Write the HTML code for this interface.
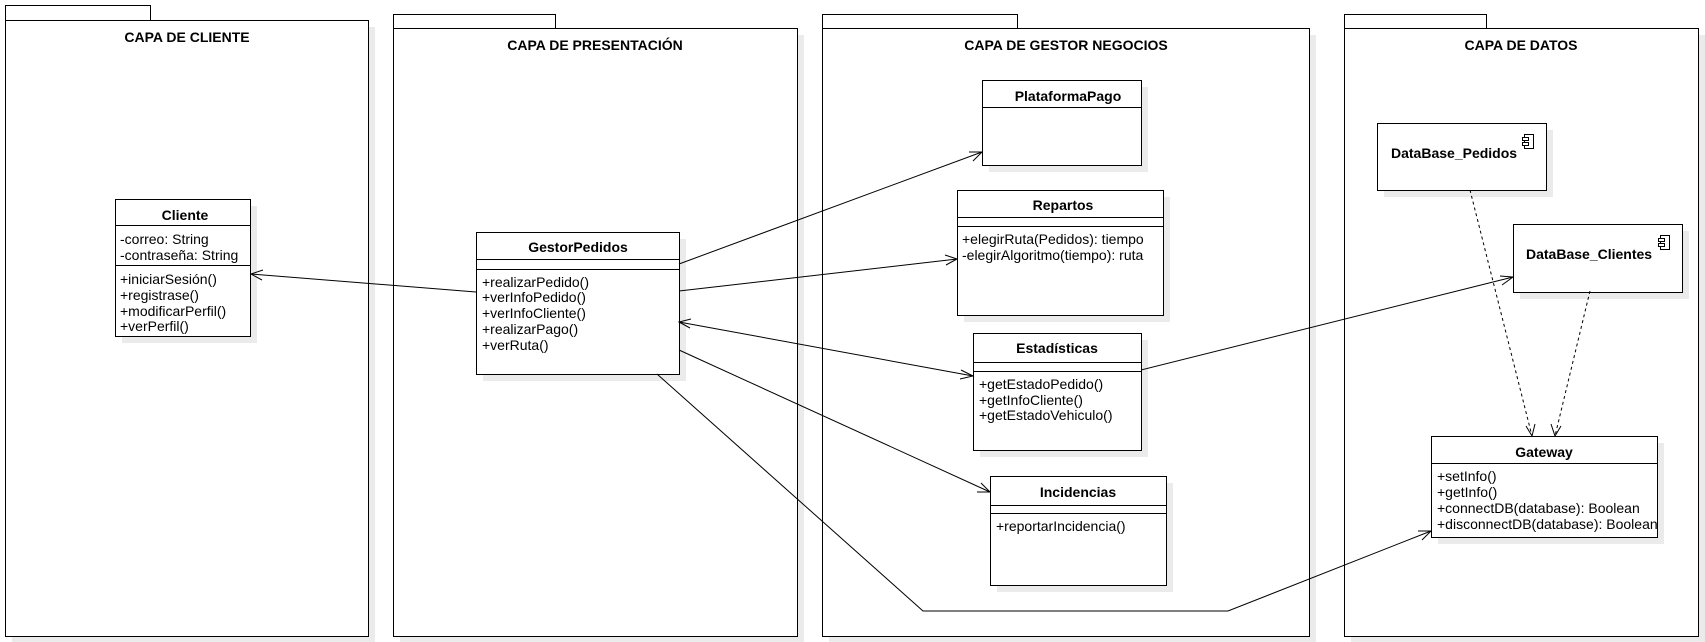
<!DOCTYPE html>
<html><head><meta charset="utf-8"><style>
html,body{margin:0;padding:0;background:#fff;width:1705px;height:642px;overflow:hidden}
svg{display:block}
text{font-family:"Liberation Sans",Arial,sans-serif;font-size:14px;fill:#000}
.b{font-weight:bold}
.s{fill:#ebebeb;stroke:none}
.r{fill:#fff;stroke:#000;stroke-width:1}
.l{stroke:#000;stroke-width:1;fill:none}
</style></head><body>
<svg width="1705" height="642" viewBox="0 0 1705 642" xmlns="http://www.w3.org/2000/svg">
<g>
<rect class="s" x="12" y="27" width="363" height="616"/>
<rect class="r" x="5.5" y="5.5" width="145" height="15"/>
<rect class="r" x="5.5" y="20.5" width="363" height="616"/>
<text class="b" x="187" y="42" text-anchor="middle">CAPA DE CLIENTE</text>

<rect class="s" x="400" y="35" width="404" height="608"/>
<rect class="r" x="393.5" y="14.5" width="162" height="14"/>
<rect class="r" x="393.5" y="28.5" width="404" height="608"/>
<text class="b" x="595" y="50" text-anchor="middle">CAPA DE PRESENTACIÓN</text>

<rect class="s" x="829" y="35" width="487" height="608"/>
<rect class="r" x="822.5" y="14.5" width="195" height="14"/>
<rect class="r" x="822.5" y="28.5" width="487" height="608"/>
<text class="b" x="1066" y="50" text-anchor="middle">CAPA DE GESTOR NEGOCIOS</text>

<rect class="s" x="1351" y="35" width="354" height="608"/>
<rect class="r" x="1344.5" y="14.5" width="142" height="14"/>
<rect class="r" x="1344.5" y="28.5" width="354" height="608"/>
<text class="b" x="1521" y="50" text-anchor="middle">CAPA DE DATOS</text>
</g>

<rect class="s" x="122" y="206" width="135" height="137"/>
<rect class="r" x="115.5" y="199.5" width="135" height="137"/>
<line class="l" x1="115.5" y1="225.5" x2="250.5" y2="225.5"/>
<line class="l" x1="115.5" y1="265.5" x2="250.5" y2="265.5"/>
<text class="b" x="185" y="220" text-anchor="middle">Cliente</text>
<text x="120" y="244">-correo: String</text>
<text x="120" y="260">-contraseña: String</text>
<text x="120" y="284">+iniciarSesión()</text>
<text x="120" y="300">+registrase()</text>
<text x="120" y="316">+modificarPerfil()</text>
<text x="120" y="331">+verPerfil()</text>

<rect class="s" x="483" y="239" width="203" height="142"/>
<rect class="r" x="476.5" y="232.5" width="203" height="142"/>
<line class="l" x1="476.5" y1="259.5" x2="679.5" y2="259.5"/>
<line class="l" x1="476.5" y1="269.5" x2="679.5" y2="269.5"/>
<text class="b" x="578" y="252" text-anchor="middle">GestorPedidos</text>
<text x="482" y="287">+realizarPedido()</text>
<text x="482" y="302">+verInfoPedido()</text>
<text x="482" y="318">+verInfoCliente()</text>
<text x="482" y="334">+realizarPago()</text>
<text x="482" y="350">+verRuta()</text>

<rect class="s" x="989" y="87" width="159" height="85"/>
<rect class="r" x="982.5" y="80.5" width="159" height="85"/>
<line class="l" x1="982.5" y1="107.5" x2="1141.5" y2="107.5"/>
<text class="b" x="1068" y="101" text-anchor="middle">PlataformaPago</text>

<rect class="s" x="964" y="197" width="206" height="125"/>
<rect class="r" x="957.5" y="190.5" width="206" height="125"/>
<line class="l" x1="957.5" y1="217.5" x2="1163.5" y2="217.5"/>
<line class="l" x1="957.5" y1="226.5" x2="1163.5" y2="226.5"/>
<text class="b" x="1063" y="210" text-anchor="middle">Repartos</text>
<text x="962" y="244">+elegirRuta(Pedidos): tiempo</text>
<text x="962" y="260">-elegirAlgoritmo(tiempo): ruta</text>

<rect class="s" x="980" y="340" width="168" height="117"/>
<rect class="r" x="973.5" y="333.5" width="168" height="117"/>
<line class="l" x1="973.5" y1="362.5" x2="1141.5" y2="362.5"/>
<line class="l" x1="973.5" y1="371.5" x2="1141.5" y2="371.5"/>
<text class="b" x="1057" y="353" text-anchor="middle">Estadísticas</text>
<text x="979" y="389">+getEstadoPedido()</text>
<text x="979" y="405">+getInfoCliente()</text>
<text x="979" y="420">+getEstadoVehiculo()</text>

<rect class="s" x="997" y="483" width="176" height="109"/>
<rect class="r" x="990.5" y="476.5" width="176" height="109"/>
<line class="l" x1="990.5" y1="505.5" x2="1166.5" y2="505.5"/>
<line class="l" x1="990.5" y1="513.5" x2="1166.5" y2="513.5"/>
<text class="b" x="1078" y="497" text-anchor="middle">Incidencias</text>
<text x="996" y="531">+reportarIncidencia()</text>

<rect class="s" x="1384" y="130" width="169" height="67"/>
<rect class="r" x="1377.5" y="123.5" width="169" height="67"/>
<text class="b" x="1391" y="158">DataBase_Pedidos</text>
<rect class="r" x="1524.5" y="134.5" width="9" height="14"/>
<rect class="r" x="1522.5" y="137.5" width="6" height="3"/>
<rect class="r" x="1522.5" y="142.5" width="6" height="3"/>

<rect class="s" x="1520" y="231" width="169" height="68"/>
<rect class="r" x="1513.5" y="224.5" width="169" height="68"/>
<text class="b" x="1526" y="259">DataBase_Clientes</text>
<rect class="r" x="1660.5" y="235.5" width="9" height="14"/>
<rect class="r" x="1658.5" y="238.5" width="6" height="3"/>
<rect class="r" x="1658.5" y="243.5" width="6" height="3"/>

<rect class="s" x="1438" y="443" width="226" height="101"/>
<rect class="r" x="1431.5" y="436.5" width="226" height="101"/>
<line class="l" x1="1431.5" y1="463.5" x2="1657.5" y2="463.5"/>
<text class="b" x="1544" y="457" text-anchor="middle">Gateway</text>
<text x="1437" y="481">+setInfo()</text>
<text x="1437" y="497">+getInfo()</text>
<text x="1437" y="513">+connectDB(database): Boolean</text>
<text x="1437" y="529">+disconnectDB(database): Boolean</text>

<g class="l">
<line x1="476" y1="292" x2="251" y2="274"/>
<polyline points="263,270 251,274 262,280"/>
<line x1="679" y1="264" x2="982" y2="152"/>
<polyline points="969,152 982,152 973,161"/>
<line x1="679" y1="291" x2="957" y2="259"/>
<polyline points="945,255 957,259 946,265"/>
<line x1="679" y1="322" x2="973" y2="376"/>
<polyline points="961,370 973,376 960,379"/>
<polyline points="691,319 679,322 690,328"/>
<line x1="679" y1="350" x2="990" y2="492"/>
<polyline points="977,492 990,492 981,483"/>
<polyline points="657,374 923,611 1228,611 1431,531"/>
<polyline points="1418,531 1431,531 1422,540"/>
<line x1="1141" y1="370" x2="1513" y2="277"/>
<polyline points="1500,276 1513,277 1502,285"/>
<line x1="1470" y1="190" x2="1532" y2="436" stroke-dasharray="3,3"/>
<polyline points="1526,426 1532,436 1535,424"/>
<line x1="1590" y1="291" x2="1555" y2="436" stroke-dasharray="3,3"/>
<polyline points="1551,424 1555,436 1561,426"/>
</g>
</svg>
</body></html>
